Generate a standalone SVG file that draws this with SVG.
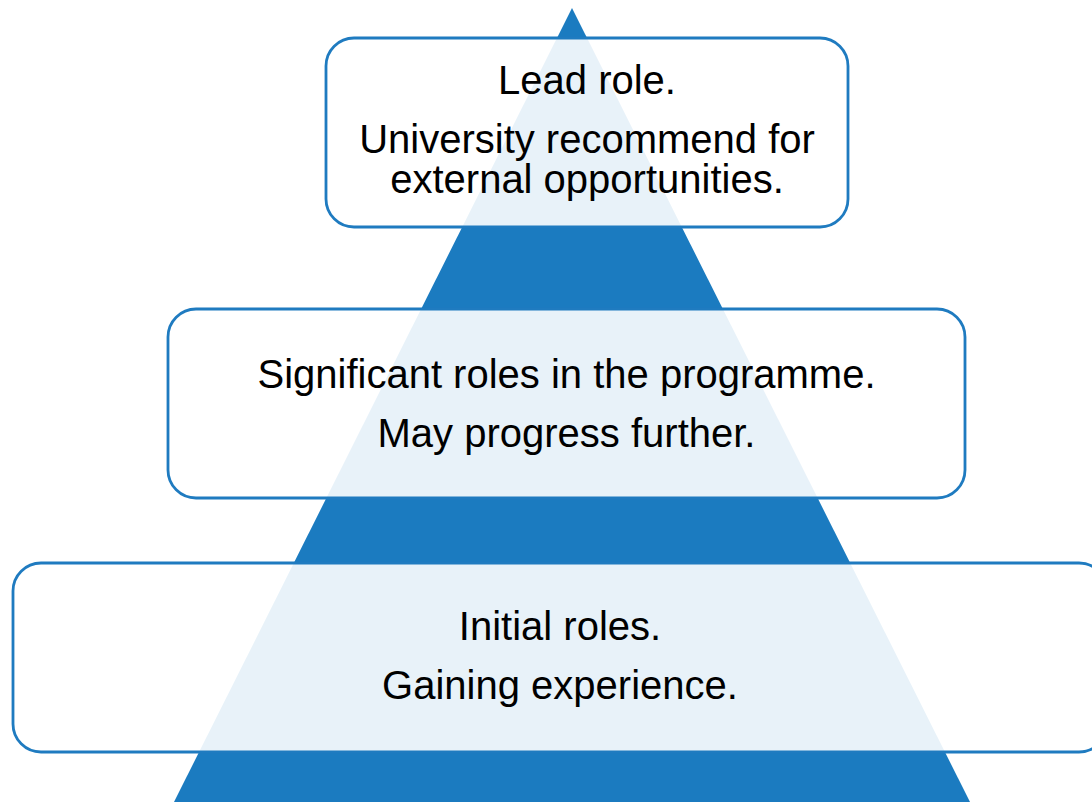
<svg xmlns="http://www.w3.org/2000/svg" width="1092" height="802" viewBox="0 0 1092 802">
  <style>
    .box { fill: #ffffff; fill-opacity: 0.9; stroke: #1f7bc0; stroke-width: 2.8; }
    .lbl { font-family: "Liberation Sans", Arial, sans-serif; font-size: 40px; fill: #000000; text-anchor: middle; }
  </style>
  <rect width="1092" height="802" fill="#ffffff"/>
  <g id="pyramid">
    <polygon points="572,8 970,802 174,802" fill="#1b7bc0"/>
  </g>
  <g id="connectors"></g>
  <g id="tier-top">
    <rect class="box" x="326" y="38" width="522" height="189" rx="28" ry="28"/>
    <text class="lbl" x="587" y="94">Lead role.</text>
    <text class="lbl" x="587" y="153">University recommend for</text>
    <text class="lbl" x="587" y="193">external opportunities.</text>
  </g>
  <g id="tier-middle">
    <rect class="box" x="168" y="309" width="797" height="189" rx="28" ry="28"/>
    <text class="lbl" x="566.5" y="388">Significant roles in the programme.</text>
    <text class="lbl" x="566.5" y="447">May progress further.</text>
  </g>
  <g id="tier-bottom">
    <rect class="box" x="13" y="563" width="1094" height="189" rx="28" ry="28"/>
    <text class="lbl" x="560" y="640">Initial roles.</text>
    <text class="lbl" x="560" y="699">Gaining experience.</text>
  </g>
</svg>
